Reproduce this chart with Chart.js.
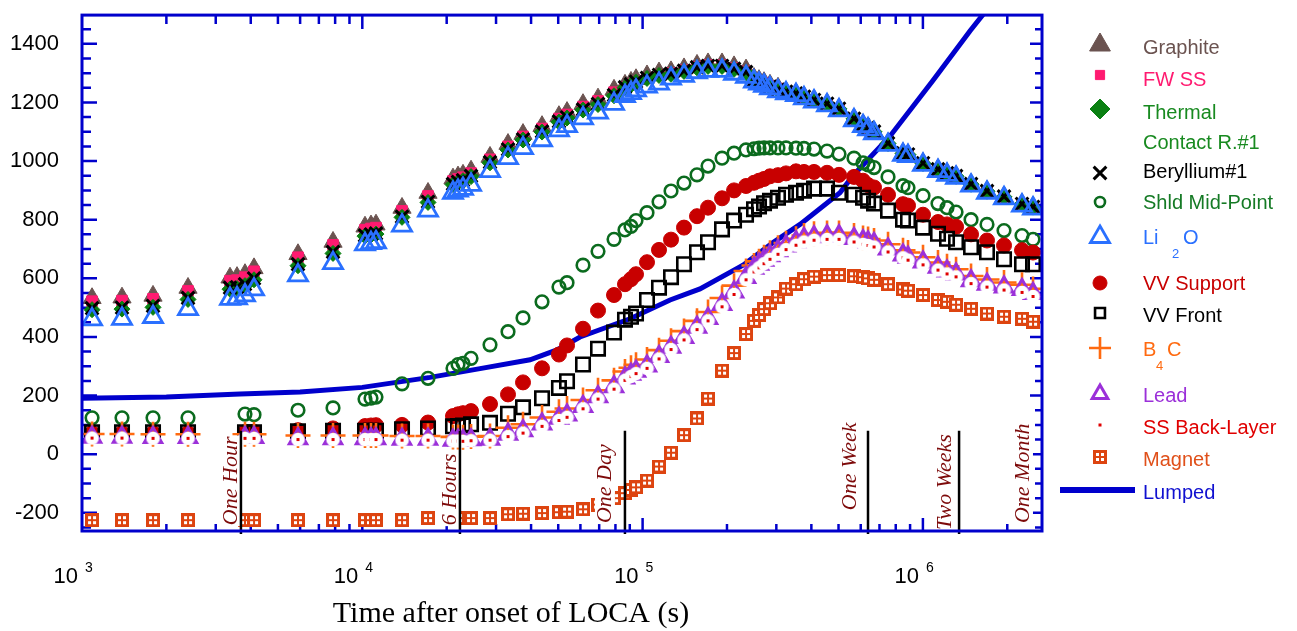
<!DOCTYPE html>
<html>
<head>
<meta charset="utf-8">
<title>LOCA component temperatures</title>
<script src="https://cdn.jsdelivr.net/npm/chart.js@4/dist/chart.umd.min.js"></script>
<style>
  html, body { margin: 0; padding: 0; background: #fff; }
  #wrap { width: 1297px; height: 631px; }
</style>
</head>
<body>
<div id="wrap"><canvas id="chart" width="1297" height="631"></canvas></div>
<script>
// time steps (s) shared by the component curves
const times = [1086, 1389, 1792, 2389, 3373, 3573, 3815, 4108, 5896, 7862,
  10224, 10740, 11190, 13857, 17157, 21063, 21950, 22870, 24430, 28550,
  33100, 37440, 43770, 50300, 53750, 61290, 69330, 79070, 86530, 90900,
  94730, 103680, 114430, 126300, 140510, 156350, 171150, 192020, 211940, 233870,
  249720, 260200, 271140, 284740, 304100, 324800, 352600, 376500, 408800, 455000,
  502000, 567800, 611500, 637300, 669300, 750900, 849200, 884800, 1000900, 1132000,
  1219000, 1313000, 1485000, 1693000, 1947000, 2257000, 2471000];

// temperatures (C)
const graphite = [532, 534, 540, 567, 602, 604, 614, 634, 682, 724,
  776, 780, 783, 840, 891, 940, 947, 953, 967, 1014,
  1058, 1092, 1119, 1153, 1167, 1194, 1213, 1243, 1260, 1270,
  1279, 1292, 1302, 1306, 1316, 1328, 1333, 1333, 1323, 1312,
  1283, 1276, 1269, 1260, 1250, 1237, 1231, 1220, 1209, 1196,
  1179, 1145, 1125, 1114, 1101, 1061, 1027, 1023, 993, 972,
  959, 949, 922, 898, 879, 854, 844];
const fwSS = [522, 524, 530, 557, 592, 594, 604, 624, 672, 714,
  766, 770, 773, 830, 881, 932, 939, 945, 959, 1006,
  1050, 1084, 1111, 1145, 1159, 1186, 1205, 1235, 1252, 1262,
  1271, 1284, 1294, 1300, 1310, 1322, 1327, 1327, 1317, 1306,
  1280, 1273, 1266, 1257, 1247, 1234, 1228, 1217, 1206, 1193,
  1176, 1142, 1122, 1111, 1098, 1058, 1024, 1020, 990, 969,
  956, 946, 919, 895, 876, 851, 841];
const thermalContact = [493, 495, 501, 528, 563, 565, 575, 595, 643, 685,
  744, 748, 751, 808, 859, 920, 927, 933, 947, 994,
  1038, 1072, 1099, 1133, 1147, 1174, 1193, 1223, 1250, 1260,
  1269, 1282, 1292, 1296, 1306, 1318, 1323, 1323, 1313, 1302,
  1276, 1269, 1262, 1253, 1243, 1236, 1230, 1219, 1208, 1195,
  1178, 1144, 1124, 1113, 1100, 1060, 1026, 1022, 992, 971,
  958, 948, 921, 897, 878, 853, 843];
const beryllium = [498, 500, 506, 533, 568, 570, 580, 600, 648, 690,
  746, 750, 753, 810, 861, 922, 929, 935, 949, 996,
  1040, 1074, 1101, 1135, 1149, 1176, 1195, 1225, 1252, 1262,
  1271, 1284, 1294, 1298, 1308, 1320, 1325, 1325, 1315, 1304,
  1277, 1270, 1263, 1254, 1244, 1237, 1231, 1220, 1209, 1196,
  1179, 1145, 1125, 1114, 1101, 1061, 1027, 1023, 993, 972,
  959, 949, 922, 898, 879, 854, 844];
const shldMid = [124, 124, 124, 124, null, null, 137, 135, 150, 158,
  188, 191, 195, 240, 259, 293, 306, 310, 327, 373,
  418, 465, 520, 570, 585, 645, 692, 733, 765, 777,
  797, 824, 861, 898, 925, 953, 983, 1010, 1027, 1038,
  1042, 1044, 1045, 1045, 1045, 1045, 1044, 1043, 1041, 1034,
  1024, 1010, 994, 987, 978, 946, 916, 909, 882, 855,
  841, 826, 800, 784, 763, 746, 733];
const li2o = [460, 462, 468, 495, 530, 532, 542, 562, 610, 652,
  716, 720, 723, 780, 831, 892, 899, 905, 919, 966,
  1010, 1044, 1071, 1105, 1119, 1146, 1165, 1195, 1222, 1232,
  1241, 1254, 1264, 1281, 1291, 1303, 1308, 1308, 1298, 1287,
  1271, 1264, 1257, 1248, 1238, 1231, 1225, 1214, 1203, 1190,
  1173, 1139, 1119, 1108, 1095, 1055, 1021, 1017, 987, 966,
  953, 943, 916, 892, 873, 848, 838];
const vvSupport = [72, 72, 72, 72, null, null, 75, 76, 82, 88,
  96, 98, 99, 100, 108, 130, 136, 140, 147, 171,
  204, 245, 293, 340, 371, 428, 490, 543, 580, 597,
  614, 655, 697, 732, 773, 812, 841, 873, 900, 915,
  926, 933, 939, 948, 952, 958, 965, 963, 963, 960,
  953, 946, 933, 918, 910, 885, 853, 848, 817, 792,
  784, 776, 750, 729, 712, 696, 688];
const vvFront = [75, 75, 75, 75, null, null, 75, 75, 78, 80,
  80, 80, 80, 85, 88, 95, 96, 98, 102, 107,
  138, 160, 191, 226, 249, 306, 360, 415, 459, 469,
  480, 526, 568, 604, 648, 689, 723, 767, 797, 817,
  836, 845, 856, 865, 875, 885, 892, 899, 906, 906,
  892, 885, 875, 865, 855, 831, 800, 797, 773, 752,
  735, 723, 706, 689, 665, 648, 648];
const b4c = [69, 69, 68, 68, null, null, 68, 68, 64, 64,
  64, 64, 64, 62, 62, 59, 59, 58, 60, 62,
  90, 102, 125, 145, 156, 185, 218, 252, 282, 295,
  305, 323, 355, 387, 420, 455, 485, 533, 575, 625,
  644, 658, 672, 687, 704, 720, 735, 746, 752, 755,
  755, 746, 738, 734, 729, 716, 696, 688, 672, 654,
  641, 631, 608, 596, 586, 578, 564];
const lead = [58, 58, 57, 57, null, null, 57, 57, 53, 53,
  53, 53, 53, 51, 51, 48, 48, 47, 49, 51,
  68, 80, 103, 123, 134, 163, 196, 230, 260, 273,
  283, 301, 333, 365, 398, 433, 463, 511, 553, 603,
  634, 648, 662, 677, 694, 710, 725, 736, 742, 745,
  745, 736, 728, 724, 719, 700, 680, 672, 656, 638,
  625, 615, 592, 580, 570, 562, 548];
const ssBackLayer = [55, 55, 54, 54, null, null, 54, 54, 50, 50,
  50, 50, 50, 48, 48, 45, 45, 44, 46, 48,
  60, 72, 95, 115, 126, 155, 188, 222, 252, 265,
  275, 293, 325, 357, 390, 425, 455, 503, 545, 595,
  622, 636, 650, 665, 682, 698, 713, 724, 730, 733,
  733, 724, 716, 712, 707, 690, 670, 662, 646, 628,
  615, 605, 582, 570, 560, 552, 538];
const magnet = [-225, -225, -225, -225, null, null, -225, -225, -225, -225,
  -225, -225, -225, -225, -218, -218, -218, -218, -218, -218,
  -205, -203, -201, -198, -196, -188, -172, -150, -133, -122,
  -113, -90, -42, 5, 65, 122, 190, 285, 345, 410,
  455, 475, 495, 515, 535, 565, 580, 597, 606, 611,
  611, 607, 604, 600, 595, 580, 562, 558, 543, 526,
  520, 510, 496, 480, 469, 462, 452];

// lumped-parameter model
const lumpedTime = [1000, 2000, 3660, 6000, 10000, 17440, 26300, 39670, 49500, 59800, 90200,
  125300, 160200, 228100, 291900, 364300, 506000, 563000, 763000, 1086000, 1472000, 1736000];
const lumpedTemp = [191, 195, 205, 212, 228, 262, 292, 322, 356, 400, 462,
  526, 564, 645, 722, 784, 892, 950, 1085, 1275, 1444, 1530];

// time marks
const markLineTimes = [3690, 22300, 86500, 637000, 1346000];
const markLabels = ['One Hour', '6 Hours', 'One Day', 'One Week', 'Two Weeks', 'One Month'];
const markLabelTimes = [3573, 21580, 77100, 576800, 1259000, 2390000];
const markLabelStart = [-242, -242, -235, -191, -259, -235];

const yTicks = [-200, 0, 200, 400, 600, 800, 1000, 1200, 1400];

const SANS = '"Liberation Sans", Arial, sans-serif';
const SERIF = '"Liberation Serif", "Times New Roman", serif';
const BLUE = '#0000cc';
const NONE = 'rgba(0,0,0,0)';

function markImage(size, paint) {
  const c = document.createElement('canvas');
  c.width = c.height = size;
  paint(c.getContext('2d'));
  return c;
}
// white disc with a red centre dot
const ssMark = markImage(15, g => {
  g.fillStyle = '#fff';
  g.beginPath(); g.arc(7.5, 7.5, 6.8, 0, Math.PI * 2); g.fill();
  g.fillStyle = '#e00000';
  g.fillRect(6, 6, 3, 3);
});
// orange square with four white cells
const magnetMark = markImage(14, g => {
  g.fillStyle = '#dd4410';
  g.fillRect(0, 0, 14, 14);
  g.fillStyle = '#fff';
  [[3, 3], [8, 3], [3, 8], [8, 8]].forEach(([x, y]) => g.fillRect(x, y, 3, 3));
});

const series = [
  { label: 'Graphite', vals: graphite, style: 'triangle', r: 10.5, fill: '#6b5350', line: '#6b5350', bw: 1, lr: 12, text: '#6b5350' },
  { label: 'FW SS', vals: fwSS, style: 'rect', r: 7.5, fill: '#ff1a70', line: '#ff1a70', bw: 1, lr: 6.5, text: '#ff1a70' },
  { label: 'Thermal Contact R.#1', vals: thermalContact, style: 'rectRot', r: 8, fill: '#0a8012', line: '#0a8012', bw: 1, lr: 10, text: '#188a20' },
  { label: 'Beryllium#1', vals: beryllium, style: 'crossRot', r: 9, fill: NONE, line: '#000', bw: 3, lr: 9, text: '#000' },
  { label: 'Shld Mid-Point', vals: shldMid, style: 'circle', r: 6.3, fill: NONE, line: '#0b6b1e', bw: 2.6, lr: 5, text: '#157a25' },
  { label: 'Li2O', vals: li2o, style: 'triangle', r: 11, fill: NONE, line: '#2a70ff', bw: 2.8, lr: 11, text: '#2a70ff' },
  { label: 'VV Support', vals: vvSupport, style: 'circle', r: 7.5, fill: '#c80000', line: '#c80000', bw: 1, lr: 7, text: '#c80000' },
  { label: 'VV Front', vals: vvFront, style: 'rect', r: 9.5, fill: NONE, line: '#000', bw: 2.6, lr: 7, text: '#000' },
  { label: 'B4C', vals: b4c, style: 'cross', r: 12.5, fill: NONE, line: '#ff6a10', bw: 2.6, lr: 11, text: '#ff6a10' },
  { label: 'Lead', vals: lead, style: 'triangle', r: 10, fill: NONE, line: '#9b30d9', bw: 3, lr: 9, text: '#9b30d9' },
  { label: 'SS Back-Layer', vals: ssBackLayer, style: ssMark, r: 7, fill: NONE, line: NONE, bw: 0, lr: 7, text: '#e00000' },
  { label: 'Magnet', vals: magnet, style: magnetMark, r: 7, fill: NONE, line: NONE, bw: 0, lr: 7, text: '#e0501a' }
];

const datasets = series.map((s, i) => ({
  label: s.label,
  data: times.map((t, j) => ({ x: t, y: s.vals[j] })),
  order: 50 - i,
  showLine: false,
  pointStyle: s.style,
  pointRadius: s.r,
  pointHoverRadius: s.r,
  pointBackgroundColor: s.fill,
  pointBorderColor: s.line,
  pointBorderWidth: s.bw
}));
datasets.push({
  label: 'Lumped',
  data: lumpedTime.map((t, j) => ({ x: t, y: lumpedTemp[j] })),
  order: 100,
  showLine: true,
  borderColor: BLUE,
  borderWidth: 5,
  pointRadius: 0,
  pointHoverRadius: 0
});

// legend rows: marker centre and text baseline
const legendRows = [
  { mark: 45, base: 54, parts: [['Graphite', 0, 0]] },
  { mark: 75, base: 86, parts: [['FW SS', 0, 0]] },
  { mark: 109, base: 119, parts: [['Thermal', 0, 0], ['Contact R.#1', 0, 30]] },
  { mark: 173, base: 178, parts: [['Beryllium#1', 0, 0]] },
  { mark: 202, base: 209, parts: [['Shld Mid-Point', 0, 0]] },
  { mark: 237, base: 244, parts: [['Li', 0, 0], ['2', 29, 14, true], ['O', 40, 0]] },
  { mark: 283, base: 290, parts: [['VV Support', 0, 0]] },
  { mark: 313, base: 322, parts: [['VV Front', 0, 0]] },
  { mark: 348, base: 356, parts: [['B', 0, 0], ['4', 13, 14, true], ['C', 24, 0]] },
  { mark: 394, base: 402, parts: [['Lead', 0, 0]] },
  { mark: 425, base: 434, parts: [['SS Back-Layer', 0, 0]] },
  { mark: 457, base: 466, parts: [['Magnet', 0, 0]] },
  { mark: 490, base: 499, parts: [['Lumped', 0, 0]] }
];

const axesFrame = {
  id: 'axesFrame',
  beforeDatasetsDraw(chart) {
    const { ctx, chartArea: a, scales: { x, y } } = chart;
    ctx.save();
    ctx.strokeStyle = BLUE;
    ctx.lineWidth = 2.5;
    ctx.beginPath();
    for (let v = -250; v <= 1450; v += 50) {
      const py = y.getPixelForValue(v);
      const major = v % 200 === 0;
      ctx.moveTo(a.left, py); ctx.lineTo(a.left + (major ? 15 : 9), py);
      ctx.moveTo(a.right, py); ctx.lineTo(a.right - (major ? 12 : 7), py);
    }
    for (let d = 3; d <= 6; d++) {
      for (let k = 1; k <= 9; k++) {
        const v = k * Math.pow(10, d);
        if (v <= x.min || v >= x.max) continue;
        const px = x.getPixelForValue(v);
        const len = k === 1 ? 13 : 7;
        ctx.moveTo(px, a.bottom); ctx.lineTo(px, a.bottom - len);
        ctx.moveTo(px, a.top); ctx.lineTo(px, a.top + (k === 1 ? 14 : 9));
      }
    }
    ctx.stroke();
    ctx.restore();
  },
  afterDatasetsDraw(chart) {
    const { ctx, chartArea: a, scales: { x, y } } = chart;
    ctx.save();
    // time mark labels on a white ground
    ctx.font = 'italic 22px ' + SERIF;
    ctx.textAlign = 'left';
    ctx.textBaseline = 'alphabetic';
    markLabels.forEach((txt, i) => {
      const px = x.getPixelForValue(markLabelTimes[i]);
      const py = y.getPixelForValue(markLabelStart[i]);
      const w = ctx.measureText(txt).width;
      ctx.save();
      ctx.translate(px, py);
      ctx.rotate(-Math.PI / 2);
      ctx.fillStyle = '#fff';
      ctx.fillRect(-1, -16, w + 2, 20);
      ctx.fillStyle = '#7d0a0a';
      ctx.fillText(txt, 0, 0);
      ctx.restore();
    });
    // time mark lines
    ctx.strokeStyle = '#000';
    ctx.lineWidth = 2.5;
    ctx.beginPath();
    markLineTimes.forEach(t => {
      const px = x.getPixelForValue(t);
      ctx.moveTo(px, y.getPixelForValue(80));
      ctx.lineTo(px, a.bottom + 3);
    });
    ctx.stroke();
    // frame
    ctx.strokeStyle = BLUE;
    ctx.lineWidth = 3;
    ctx.strokeRect(a.left, a.top, a.right - a.left, a.bottom - a.top);
    ctx.restore();
  },
  afterDraw(chart) {
    const { ctx, chartArea: a, scales: { x } } = chart;
    ctx.save();
    // decade labels
    ctx.fillStyle = '#000';
    ctx.textBaseline = 'alphabetic';
    for (let d = 3; d <= 6; d++) {
      const px = x.getPixelForValue(Math.pow(10, d));
      ctx.font = '22px ' + SANS;
      ctx.textAlign = 'right';
      ctx.fillText('10', px - 4, a.bottom + 52);
      ctx.font = '14px ' + SANS;
      ctx.textAlign = 'left';
      ctx.fillText(String(d), px + 3, a.bottom + 41);
    }
    ctx.font = '30px ' + SERIF;
    ctx.textAlign = 'center';
    ctx.fillText('Time after onset of LOCA (s)', (a.left + a.right) / 2 - 51, a.bottom + 91);

    // legend
    const mx = a.right + 58, tx = a.right + 101;
    legendRows.forEach((row, i) => {
      const ds = chart.data.datasets[i];
      if (ds.showLine) {
        ctx.strokeStyle = ds.borderColor;
        ctx.lineWidth = 6;
        ctx.beginPath();
        ctx.moveTo(a.right + 18, row.mark);
        ctx.lineTo(a.right + 93, row.mark);
        ctx.stroke();
      } else {
        const s = series[i];
        ctx.fillStyle = s.fill;
        ctx.strokeStyle = s.line;
        ctx.lineWidth = s.bw;
        Chart.helpers.drawPoint(ctx, { pointStyle: s.style, radius: s.lr, borderWidth: s.bw, rotation: 0 }, mx, row.mark);
      }
      ctx.fillStyle = i < series.length ? series[i].text : '#1010d0';
      ctx.textAlign = 'left';
      row.parts.forEach(([txt, dx, dy, sub]) => {
        ctx.font = (sub ? '13px ' : '20px ') + SANS;
        ctx.fillText(txt, tx + dx, row.base + dy);
      });
    });
    ctx.restore();
  }
};

new Chart(document.getElementById('chart'), {
  type: 'scatter',
  data: { datasets },
  options: {
    responsive: false,
    animation: false,
    devicePixelRatio: 1,
    layout: { padding: { left: 0, top: 11, right: 255, bottom: 100 } },
    plugins: { legend: { display: false }, tooltip: { enabled: false } },
    scales: {
      x: {
        type: 'logarithmic',
        min: 1000,
        max: 2660000,
        grid: { display: false, drawTicks: false },
        border: { display: false },
        ticks: { display: false },
        afterFit: s => { s.height = 0; s.paddingLeft = 0; s.paddingRight = 0; }
      },
      y: {
        min: -262,
        max: 1498,
        grid: { display: false, drawTicks: false, tickLength: 0 },
        border: { display: false },
        ticks: {
          padding: 23,
          color: '#000',
          font: { family: SANS, size: 22 },
          callback: v => String(v)
        },
        afterBuildTicks: s => { s.ticks = yTicks.map(v => ({ value: v })); },
        afterFit: s => { s.width = 82; s.paddingTop = 0; s.paddingBottom = 0; }
      }
    }
  },
  plugins: [axesFrame]
});
</script>
</body>
</html>
